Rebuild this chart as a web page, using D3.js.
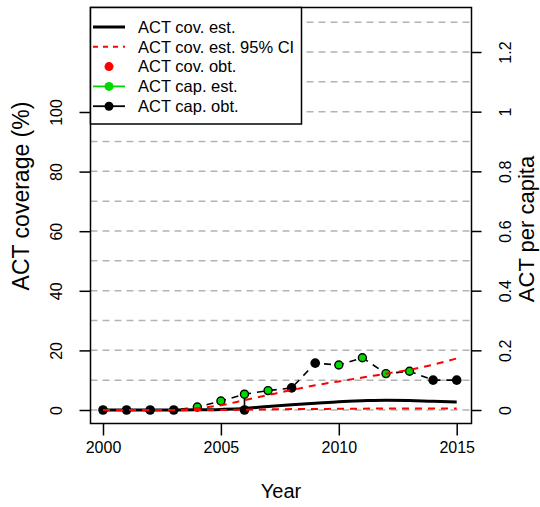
<!DOCTYPE html>
<html><head><meta charset="utf-8">
<script src="https://cdn.jsdelivr.net/npm/d3@7"></script>
<style>body{margin:0;background:#fff}svg{display:block}text{font-family:"Liberation Sans",Arial,sans-serif;fill:#000}</style>
</head><body><svg id="c" width="540" height="507"></svg>
<script>
const years = [2000,2001,2002,2003,2004,2005,2006,2007,2008,2009,2010,2011,2012,2013,2014,2015];
const covEst   = [0,0,0,0,0.05,0.2,0.5,1.2,1.8,2.3,2.8,3.1,3.3,3.2,2.9,2.7];
const covUpper = [0,0,0,0,0.6,1.6,3.3,5.0,6.7,8.3,9.6,10.9,12.2,13.5,15.2,17.3];
const covLower = [0,0,0,0,0,0,0.1,0.2,0.3,0.35,0.4,0.45,0.5,0.5,0.5,0.5];
const capLine  = [0,0,0,0,0.010,0.030,0.053,0.065,0.074,0.157,0.151,0.175,0.122,0.130,0.100,0.100];
const capEstYears = [2004,2005,2006,2007,2010,2011,2012,2013];
const capEst      = [0.010,0.030,0.053,0.065,0.151,0.175,0.122,0.130];
const capObtYears = [2000,2001,2002,2003,2006,2008,2009,2014,2015];
const capObt      = [0,0,0,0,0,0.074,0.157,0.100,0.100];
const xTicks = [2000,2005,2010,2015];
const leftTicks = [0,20,40,60,80,100];
const rightTicks = [0,0.2,0.4,0.6,0.8,1,1.2];
const gridVals = [0,0.1,0.2,0.3,0.4,0.5,0.6,0.7,0.8,0.9,1.0,1.1,1.2,1.3];
const legendLabels = ["ACT cov. est.","ACT cov. est. 95% CI","ACT cov. obt.","ACT cap. est.","ACT cap. obt."];

const GREEN = "#00d800";
const svg = d3.select("#c");
const box = {l:90.5, r:471.5, t:7.5, b:423.5};
const x = d3.scaleLinear().domain([2000,2015]).range([103,456.7]);
const yL = d3.scaleLinear().domain([0,100]).range([410,112]);
const yR = d3.scaleLinear().domain([0,1.2]).range([410,52]);

// grid
svg.append("g").selectAll("line").data(gridVals).join("line")
  .attr("x1",box.l).attr("x2",box.r).attr("y1",d=>yR(d)).attr("y2",d=>yR(d))
  .attr("stroke","#b4b4b4").attr("stroke-width",1.5).attr("stroke-dasharray","7,5");

const pts = years.map((y,i)=>({y, cov:covEst[i], up:covUpper[i], lo:covLower[i], cap:capLine[i]}));

// cap dashed line
svg.append("path").datum(pts)
  .attr("d", d3.line().x(d=>x(d.y)).y(d=>yR(d.cap)))
  .attr("fill","none").attr("stroke","#000").attr("stroke-width",1.6).attr("stroke-dasharray","7,6");

// vertical connector where est and obt share a year
const both = capEstYears.filter(y=>capObtYears.includes(y));
svg.append("g").selectAll("line").data(both).join("line")
  .attr("x1",d=>x(d)).attr("x2",d=>x(d))
  .attr("y1",d=>yR(capEst[capEstYears.indexOf(d)]))
  .attr("y2",d=>yR(capObt[capObtYears.indexOf(d)]))
  .attr("stroke","#000").attr("stroke-width",1.6);

// obt points
svg.append("g").selectAll("circle").data(capObtYears).join("circle")
  .attr("cx",d=>x(d)).attr("cy",(d,i)=>yR(capObt[i])).attr("r",4.8).attr("fill","#000");
// est points
svg.append("g").selectAll("circle").data(capEstYears).join("circle")
  .attr("cx",d=>x(d)).attr("cy",(d,i)=>yR(capEst[i])).attr("r",4)
  .attr("fill",GREEN).attr("stroke","#000").attr("stroke-width",1.4);

// coverage estimate
svg.append("path").datum(pts)
  .attr("d", d3.line().curve(d3.curveMonotoneX).x(d=>x(d.y)).y(d=>yL(d.cov)))
  .attr("fill","none").attr("stroke","#000").attr("stroke-width",3);
// CI
["up","lo"].forEach(k=>{
  svg.append("path").datum(pts)
    .attr("d", d3.line().curve(d3.curveMonotoneX).x(d=>x(d.y)).y(d=>yL(d[k])))
    .attr("fill","none").attr("stroke","#ff0000").attr("stroke-width",2).attr("stroke-dasharray","7,6");
});

// box
svg.append("rect").attr("x",box.l).attr("y",box.t).attr("width",box.r-box.l).attr("height",box.b-box.t)
  .attr("fill","none").attr("stroke","#000").attr("stroke-width",1.5);

// axes
const ax = svg.append("g").attr("transform",`translate(0,${box.b})`)
  .call(d3.axisBottom(x).tickValues(xTicks).tickFormat(d3.format("d")).tickSize(12).tickPadding(6));
ax.select(".domain").remove();
ax.selectAll("line").attr("stroke-width",1.5);
ax.selectAll("text").attr("font-size",16).attr("font-family","Liberation Sans, Arial").attr("dy","0.71em");

const al = svg.append("g").attr("transform",`translate(${box.l},0)`)
  .call(d3.axisLeft(yL).tickValues(leftTicks).tickSize(11).tickFormat(d3.format("d")));
al.select(".domain").remove();
al.selectAll("line").attr("stroke-width",1.5);
al.selectAll("text").attr("font-size",16).attr("font-family","Liberation Sans, Arial")
  .attr("x",null).attr("dy",null).attr("text-anchor","middle")
  .attr("transform","translate(-29,0) rotate(-90)").attr("y",0);

const ar = svg.append("g").attr("transform",`translate(${box.r},0)`)
  .call(d3.axisRight(yR).tickValues(rightTicks).tickSize(10).tickFormat(d=>d3.format("")(+d.toFixed(1))));
ar.select(".domain").remove();
ar.selectAll("line").attr("stroke-width",1.5);
ar.selectAll("text").attr("font-size",16).attr("font-family","Liberation Sans, Arial")
  .attr("x",null).attr("dy",null).attr("text-anchor","middle")
  .attr("transform","translate(39,0) rotate(-90)").attr("y",0);

// titles
svg.append("text").attr("x",281).attr("y",498).attr("text-anchor","middle").attr("font-size",20).text("Year");
svg.append("text").attr("transform","translate(29,196) rotate(-90)").attr("text-anchor","middle").attr("font-size",23).text("ACT coverage (%)");
svg.append("text").attr("transform","translate(533.5,229) rotate(-90)").attr("text-anchor","middle").attr("font-size",22).text("ACT per capita");

// legend
const lg = svg.append("g");
lg.append("rect").attr("x",box.l).attr("y",box.t).attr("width",211).attr("height",116.5)
  .attr("fill","#fff").attr("stroke","#000").attr("stroke-width",1.5);
const ly = i=>27+i*19.8;
legendLabels.forEach((t,i)=>{
  lg.append("text").attr("x",138).attr("y",ly(i)).attr("dy","0.35em").attr("font-size",16.5).text(t);
});
lg.append("line").attr("x1",93).attr("x2",125).attr("y1",ly(0)).attr("y2",ly(0)).attr("stroke","#000").attr("stroke-width",3);
lg.append("line").attr("x1",93).attr("x2",125).attr("y1",ly(1)).attr("y2",ly(1)).attr("stroke","#ff0000").attr("stroke-width",2).attr("stroke-dasharray","5,5");
lg.append("circle").attr("cx",109).attr("cy",ly(2)).attr("r",4.5).attr("fill","#ff0000");
lg.append("line").attr("x1",93).attr("x2",125).attr("y1",ly(3)).attr("y2",ly(3)).attr("stroke",GREEN).attr("stroke-width",1.8);
lg.append("circle").attr("cx",109).attr("cy",ly(3)).attr("r",4.5).attr("fill",GREEN);
lg.append("line").attr("x1",93).attr("x2",125).attr("y1",ly(4)).attr("y2",ly(4)).attr("stroke","#000").attr("stroke-width",1.8);
lg.append("circle").attr("cx",109).attr("cy",ly(4)).attr("r",4.5).attr("fill","#000");
</script></body></html>
